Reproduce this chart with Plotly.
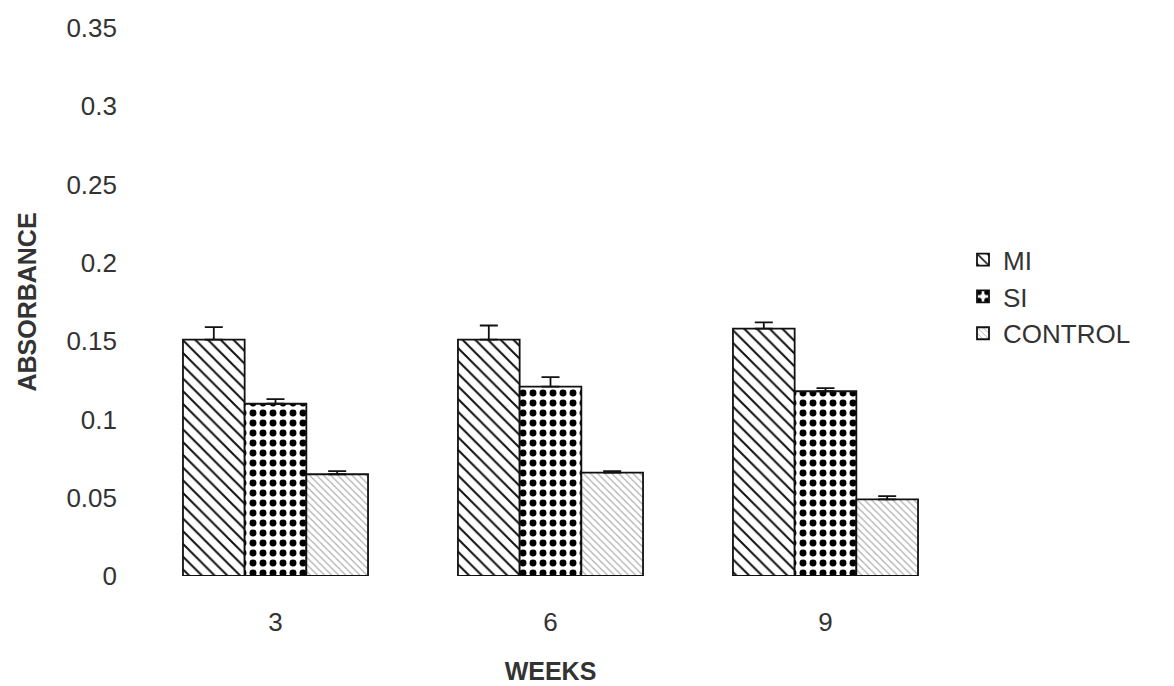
import plotly.graph_objects as go

weeks = ["3", "6", "9"]
mi = [0.151, 0.151, 0.158]
mi_err = [0.008, 0.009, 0.004]
si = [0.110, 0.121, 0.118]
si_err = [0.003, 0.006, 0.002]
control = [0.065, 0.066, 0.049]
control_err = [0.002, 0.001, 0.002]

font_family = "Liberation Sans, Arial, sans-serif"
txt = "#333"

def err(vals):
    return dict(type="data", array=vals, arrayminus=[0] * len(vals), symmetric=False,
                color="#111", thickness=1.8, width=9)

fig = go.Figure()
fig.add_trace(go.Bar(
    name="MI", x=weeks, y=mi, error_y=err(mi_err),
    marker=dict(color="white", line=dict(color="#111", width=1.8),
                pattern=dict(shape="\\", fgcolor="#111", fgopacity=1, bgcolor="white",
                             size=9, solidity=0.22)),
))
fig.add_trace(go.Bar(
    name="SI", x=weeks, y=si, error_y=err(si_err),
    marker=dict(color="white", line=dict(color="#111", width=1.8),
                pattern=dict(shape=".", fgcolor="#000", fgopacity=1, bgcolor="white",
                             size=10, solidity=0.38)),
))
fig.add_trace(go.Bar(
    name="CONTROL", x=weeks, y=control, error_y=err(control_err),
    marker=dict(color="white", line=dict(color="#111", width=1.8),
                pattern=dict(shape="\\", fgcolor="#aaa", fgopacity=1, bgcolor="white",
                             size=5, solidity=0.22)),
))

fig.update_layout(
    width=1174, height=686,
    margin=dict(l=138, r=211, t=28, b=110),
    paper_bgcolor="white", plot_bgcolor="white",
    barmode="group", bargap=0.327, bargroupgap=0,
    font=dict(family=font_family, size=26, color=txt),
    xaxis=dict(showline=False, showgrid=False, zeroline=False, ticks="",
               ticklabelstandoff=28, automargin=False,
               tickfont=dict(size=26, color=txt),
               title=dict(text="<b>WEEKS</b>", font=dict(size=25, color=txt), standoff=26)),
    yaxis=dict(range=[0, 0.35], dtick=0.05, showline=False, showgrid=False, zeroline=False,
               ticks="", ticklabelstandoff=20, tickformat="~g", automargin=False,
               tickfont=dict(size=26, color=txt),
               title=dict(text="<b>ABSORBANCE</b>", font=dict(size=25, color=txt), standoff=22)),
    legend=dict(x=1.0, y=0.62, xanchor="left", yanchor="top",
                font=dict(size=26, color=txt), itemwidth=30, tracegroupgap=0),
    showlegend=True,
)

fig.write_html("out.html")
